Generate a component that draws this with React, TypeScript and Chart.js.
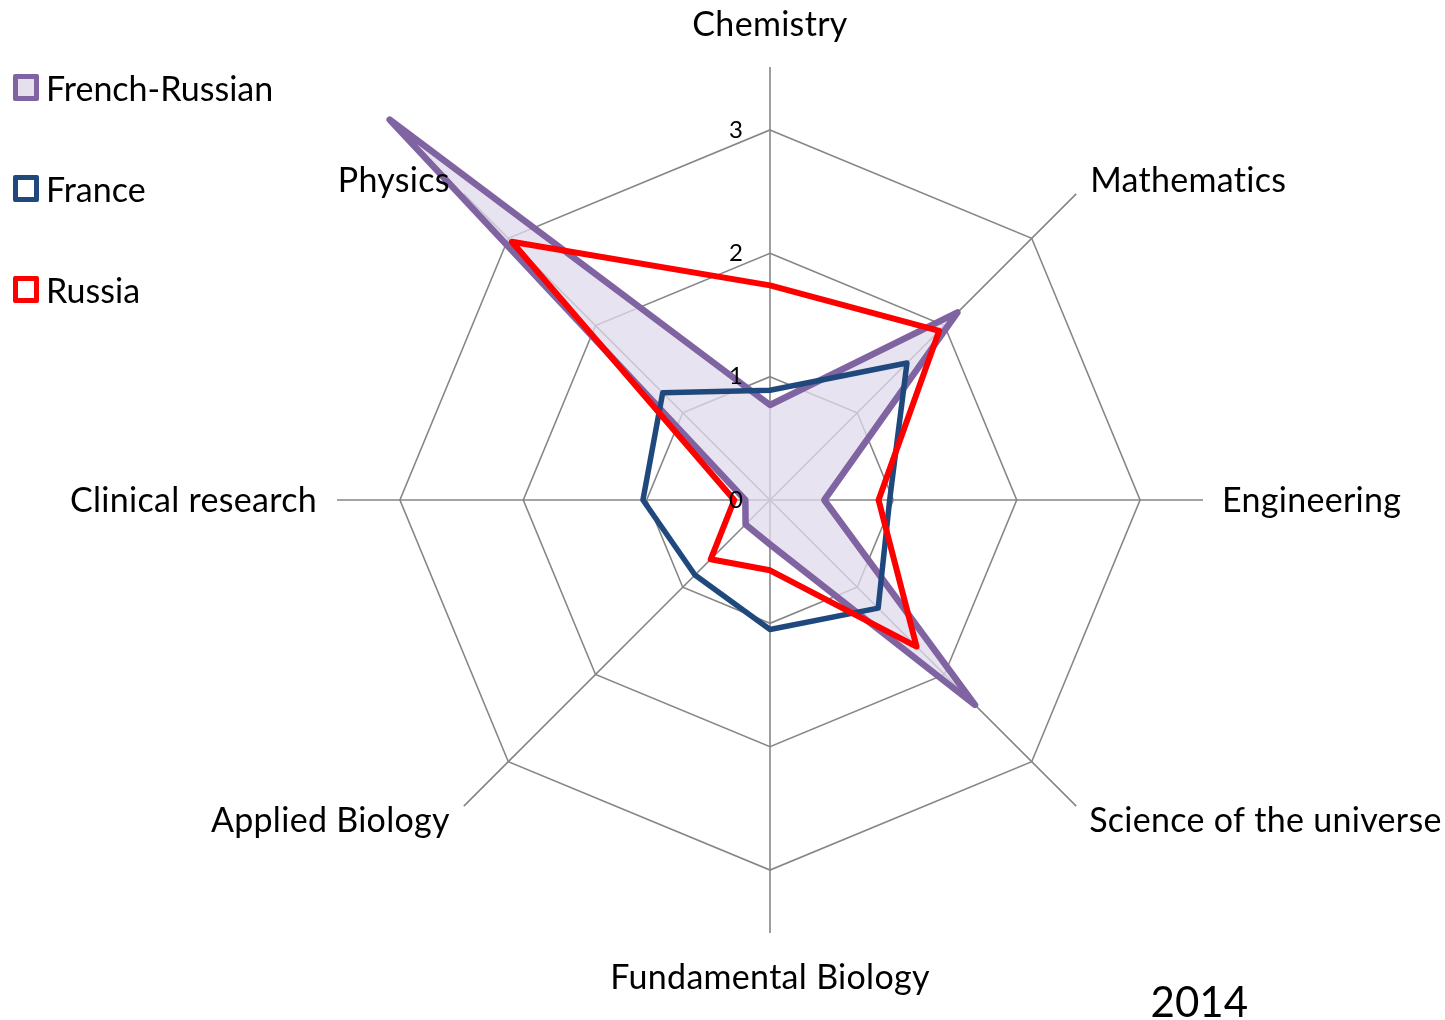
import React, { useEffect, useRef } from 'react';
import { Chart, registerables } from 'chart.js';

Chart.register(...registerables);

const CATEGORIES = [
  'Chemistry',
  'Mathematics',
  'Engineering',
  'Science of the universe',
  'Fundamental Biology',
  'Applied Biology',
  'Clinical research',
  'Physics',
];
const SERIES_NAMES = ['French-Russian', 'France', 'Russia'];
const FRENCH_RUSSIAN = [0.77, 2.15, 0.44, 2.35, 0.36, 0.28, 0.2, 4.36];
const FRANCE = [0.89, 1.57, 0.97, 1.24, 1.05, 0.86, 1.03, 1.23];
const RUSSIA = [1.74, 1.94, 0.88, 1.68, 0.57, 0.68, 0.29, 2.96];
const TICK_VALUES = [0, 1, 2, 3];
const AXIS_MAX = 3.51;
const YEAR = '2014';

const LINE_COLORS = ['#8064A2', '#1F497D', '#FF0000'];
const LEGEND_FILLS = ['#E6E0EC', '#FFFFFF', '#FFFFFF'];
const FONT = 'Lato, "Open Sans", sans-serif';
const LABEL_SIZE = 34;

const textPlugin = {
  id: 'radarText',
  afterDraw(chart: any) {
    const scale = chart.scales.r;
    const ctx = chart.ctx as any;
    ctx.save();
    ctx.fillStyle = '#000';
    // radial tick labels
    ctx.font = `24px ${FONT}`;
    ctx.textAlign = 'right';
    ctx.textBaseline = 'middle';
    TICK_VALUES.forEach((v) => {
      const d = scale.getDistanceFromCenterForValue(v);
      ctx.fillText(String(v), scale.xCenter - 27, scale.yCenter - d);
    });
    // point labels
    ctx.font = `${LABEL_SIZE}px ${FONT}`;
    if ('letterSpacing' in ctx) ctx.letterSpacing = '0.3px';
    ctx.textBaseline = 'alphabetic';
    const capH = ctx.measureText('H').actualBoundingBoxAscent;
    const n = CATEGORIES.length;
    CATEGORIES.forEach((label, i) => {
      const p = scale.getPointPosition(i, scale.drawingArea);
      const deg = (360 / n) * i;
      let x = p.x;
      let y = p.y;
      let align = 'center';
      if (deg === 0) {
        y -= 31;
      } else if (deg === 180) {
        y += 31 + capH;
      } else if (deg === 90) {
        x += 19;
        y += capH / 2 - 1;
        align = 'left';
      } else if (deg === 270) {
        x -= 20;
        y += capH / 2 - 1;
        align = 'right';
      } else if (deg < 90) {
        x += 14;
        y -= 2;
        align = 'left';
      } else if (deg < 180) {
        x += 13;
        y += 1 + capH;
        align = 'left';
      } else if (deg < 270) {
        x -= 14;
        y += 1 + capH;
        align = 'right';
      } else {
        x -= 14;
        y -= 2;
        align = 'right';
      }
      ctx.textAlign = align;
      ctx.fillText(label, x, y);
    });
    ctx.restore();
  },
};

export default function App() {
  const canvasRef = useRef<HTMLCanvasElement | null>(null);

  useEffect(() => {
    if (!canvasRef.current) return;
    const chart = new Chart(canvasRef.current, {
      type: 'radar',
      data: {
        labels: CATEGORIES,
        datasets: [
          {
            label: SERIES_NAMES[0],
            data: FRENCH_RUSSIAN,
            borderColor: LINE_COLORS[0],
            backgroundColor: 'rgba(224, 217, 235, 0.75)',
            borderWidth: 6.5,
            fill: true,
            order: 3,
            clip: false as any,
          },
          {
            label: SERIES_NAMES[1],
            data: FRANCE,
            borderColor: LINE_COLORS[1],
            backgroundColor: 'rgba(0,0,0,0)',
            borderWidth: 5.5,
            fill: false,
            order: 2,
            clip: false as any,
          },
          {
            label: SERIES_NAMES[2],
            data: RUSSIA,
            borderColor: LINE_COLORS[2],
            backgroundColor: 'rgba(0,0,0,0)',
            borderWidth: 6,
            fill: false,
            order: 1,
            clip: false as any,
          },
        ],
      },
      options: {
        responsive: false,
        maintainAspectRatio: false,
        animation: false,
        devicePixelRatio: 1,
        layout: { padding: { left: 292, right: 197, top: 67, bottom: 0 } },
        elements: {
          line: { tension: 0, borderJoinStyle: 'round' },
          point: { radius: 0, hoverRadius: 0, hitRadius: 0 },
        },
        scales: {
          r: {
            min: 0,
            max: AXIS_MAX,
            startAngle: 0,
            afterBuildTicks: (scale: any) => {
              scale.ticks = TICK_VALUES.map((v) => ({ value: v }));
            },
            grid: { color: '#868686', lineWidth: 1.6 },
            angleLines: { color: '#868686', lineWidth: 1.6 },
            ticks: { display: false, stepSize: 1 },
            pointLabels: { display: false },
          },
        },
        plugins: {
          legend: { display: false },
          tooltip: { enabled: false },
          title: {
            display: true,
            text: YEAR,
            position: 'bottom',
            align: 'end',
            color: '#000',
            font: { family: FONT, size: 42, weight: 'normal', lineHeight: 1.2 },
            padding: { top: 45, bottom: -8.4 },
          },
        },
      },
      plugins: [textPlugin],
    });
    return () => chart.destroy();
  }, []);

  const legendCenters = [87, 188, 289];

  return (
    <div
      style={{
        position: 'fixed',
        left: 0,
        top: 0,
        width: 1445,
        height: 1020,
        background: '#fff',
        overflow: 'hidden',
      }}
    >
      <canvas
        ref={canvasRef}
        width={1445}
        height={1020}
        style={{ display: 'block', width: 1445, height: 1020 }}
      />
      {SERIES_NAMES.map((name, i) => (
        <div
          key={name}
          style={{
            position: 'absolute',
            left: 13,
            top: legendCenters[i] - 22,
            height: 44,
            display: 'flex',
            alignItems: 'center',
            fontFamily: FONT,
            fontSize: LABEL_SIZE,
            fontVariantLigatures: 'none',
            color: '#000',
            whiteSpace: 'nowrap',
          }}
        >
          <span
            style={{
              display: 'inline-block',
              boxSizing: 'border-box',
              width: 26,
              height: 27,
              border: `5px solid ${LINE_COLORS[i]}`,
              borderRadius: 2,
              background: LEGEND_FILLS[i],
              marginRight: 7,
            }}
          />
          <span>{name}</span>
        </div>
      ))}
    </div>
  );
}
